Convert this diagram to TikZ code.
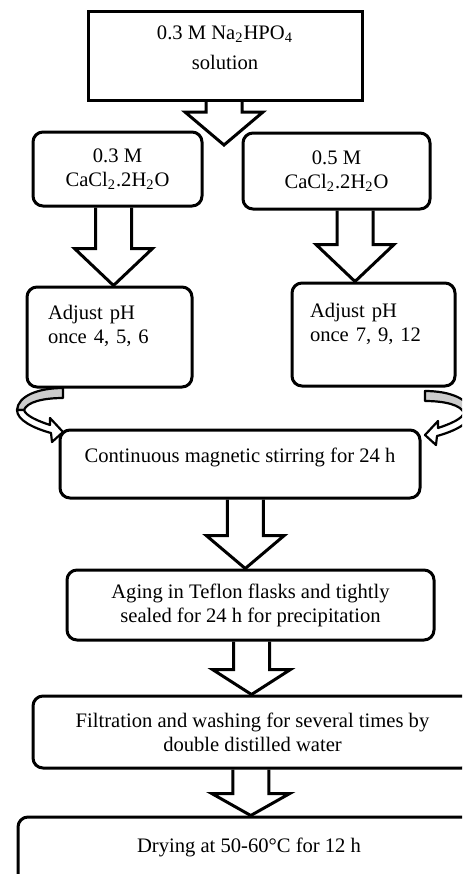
\documentclass[tikz,border=0pt]{standalone}
\usepackage{fontspec}
\setmainfont{Liberation Serif}
\usetikzlibrary{calc,backgrounds}

\tikzset{
  box/.style={draw, line width=1.5pt, rounded corners=5pt, inner sep=2pt, align=center,
    font=\fontsize{10.3}{12}\selectfont},
  sqbox/.style={box, sharp corners},
  blockline/.style={draw, fill=white, line width=1.5pt},
  loopline/.style={draw, line width=1.1pt, line join=round},
  stirloop/.pic={
    \path[loopline, fill=gray!40] (0,0) .. controls (-25,0) and (-45,8) .. (-46,22)
      -- (-39,22) .. controls (-36,14) and (-20,10) .. (0,10) -- cycle;
    \path[loopline, fill=white] (-46,22) .. controls (-46,32) and (-30,40) .. (-12,45)
      -- (-11,54) -- (0,44) -- (-13,30) -- (-13,37)
      .. controls (-25,33) and (-37,28) .. (-39,22) -- cycle;
  }
}

% hollow block arrow: from #1 down to #2, head length #3
\newcommand{\blockarrow}[3]{%
  \path[blockline] let \p1=(#1), \p2=(#2), \n1={(\x1+\x2)/2} in
    (\n1-9pt,\y1) -- (\n1-9pt,\y2+#3) -- (\n1-19.5pt,\y2+#3) -- (\n1,\y2)
    -- (\n1+19.5pt,\y2+#3) -- (\n1+9pt,\y2+#3) -- (\n1+9pt,\y1);}

\begin{document}
\begin{tikzpicture}[x=0.5pt, y=-0.5pt]
\useasboundingbox (0,0) rectangle (462,874);
\clip (0,0) rectangle (462,874);

\node[sqbox, text depth=7.5pt, minimum width=137pt, minimum height=44.5pt] (nahpo) at (225,55.5)
  {0.3 M Na\textsubscript{2}HPO\textsubscript{4}\\[3pt]solution};
\node[box, minimum width=84.5pt, minimum height=37pt] (ca3) at (117.5,169)
  {0.3 M\\CaCl\textsubscript{2}.2H\textsubscript{2}O};
\node[box, minimum width=93.5pt, minimum height=38pt] (ca5) at (336.5,171)
  {0.5 M\\CaCl\textsubscript{2}.2H\textsubscript{2}O};
\node[box, align=left, text width=61.5pt, text depth=25pt, minimum width=82.5pt, minimum height=50pt] (ph3) at (109.5,337)
  {Adjust pH\\once 4, 5, 6};
\node[box, align=left, text width=63.5pt, text depth=24pt, minimum width=81.5pt, minimum height=51.5pt] (ph5) at (373.5,334.5)
  {Adjust pH\\once 7, 9, 12};
\node[box, text depth=9pt, minimum width=180pt, minimum height=34pt] (stir) at (240,464)
  {Continuous magnetic stirring for 24 h};
\node[box, minimum width=183.5pt, minimum height=35pt] (aging) at (250.5,605)
  {Aging in Teflon flasks and tightly\\sealed for 24 h for precipitation};
\node[box, minimum width=219.5pt, minimum height=36pt] (filt) at (252.5,732)
  {Filtration and washing for several times by\\double distilled water};
\node[box, text depth=6pt, minimum width=231pt, minimum height=34pt] (dry) at (249,851)
  {Drying at 50-60°C for 12 h};
\coordinate (split) at (223,145);

\begin{scope}[on background layer]
\blockarrow{nahpo.south}{split}{16.5pt}
\blockarrow{ca3.south}{ph3.north}{18.5pt}
\blockarrow{ca5.south}{ph5.north}{18.5pt}
\blockarrow{stir.south}{aging.north}{16.5pt}
\blockarrow{aging.south}{filt.north}{12.5pt}
\blockarrow{filt.south}{dry.north}{11pt}
\end{scope}

\pic at (63,388) {stirloop};
\pic[xscale=-1] at (425,391) {stirloop};
\end{tikzpicture}
\end{document}
